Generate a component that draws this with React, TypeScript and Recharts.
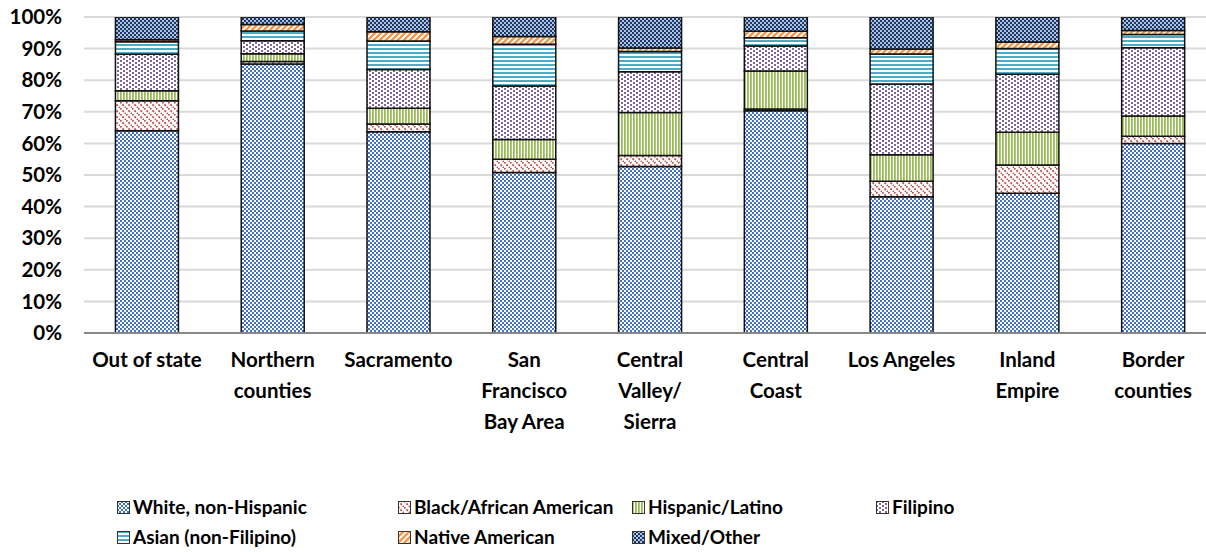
import React from 'react';
import { BarChart, Bar, XAxis, YAxis, CartesianGrid, Legend } from 'recharts';

const regions = [
  'Out of state',
  'Northern\ncounties',
  'Sacramento',
  'San\nFrancisco\nBay Area',
  'Central\nValley/\nSierra',
  'Central\nCoast',
  'Los Angeles',
  'Inland\nEmpire',
  'Border\ncounties',
];

const white = [64.0, 85.1, 63.7, 50.8, 52.7, 70.3, 43.1, 44.2, 60.0];
const black = [9.5, 0.8, 2.4, 4.2, 3.5, 0.6, 4.9, 9.0, 2.3];
const hispanic = [3.2, 2.5, 5.0, 6.2, 13.6, 12.0, 8.4, 10.3, 6.4];
const filipino = [11.5, 4.1, 12.3, 17.0, 12.9, 7.9, 22.4, 18.4, 21.6];
const asian = [4.0, 3.1, 9.0, 13.2, 6.4, 2.6, 9.5, 8.1, 4.2];
const native = [0.6, 2.0, 2.9, 2.4, 1.1, 2.1, 1.6, 2.1, 1.2];
const mixed = [7.2, 2.4, 4.7, 6.2, 9.8, 4.5, 10.1, 7.9, 4.3];

const yTicks = [0, 10, 20, 30, 40, 50, 60, 70, 80, 90, 100];

const series = [
  { key: 'white', name: 'White, non-Hispanic', values: white, pat: 'patWhite' },
  { key: 'black', name: 'Black/African American', values: black, pat: 'patBlack' },
  { key: 'hispanic', name: 'Hispanic/Latino', values: hispanic, pat: 'patHisp' },
  { key: 'filipino', name: 'Filipino', values: filipino, pat: 'patFil' },
  { key: 'asian', name: 'Asian (non-Filipino)', values: asian, pat: 'patAsian' },
  { key: 'native', name: 'Native American', values: native, pat: 'patNative' },
  { key: 'mixed', name: 'Mixed/Other', values: mixed, pat: 'patMixed' },
];

const data = regions.map((r, i) => {
  const row: any = { region: r };
  series.forEach((s) => {
    row[s.key] = s.values[i];
  });
  return row;
});

const FONT = 'Lato, "Liberation Sans", sans-serif';

// legend slots, excel style (4 columns, 2 rows)
const legendCols = [117, 398, 632, 876];

const Patterns = () => (
  <svg width={0} height={0} style={{ position: 'absolute' }}>
    <defs>
      <pattern id="patWhite" width={4} height={4} patternUnits="userSpaceOnUse">
        <rect width={4} height={4} fill="#fff" />
        <rect x={0} y={0} width={2} height={2} fill="#4472C4" />
        <rect x={2} y={2} width={2} height={2} fill="#4472C4" />
      </pattern>
      <pattern id="patBlack" width={6} height={6} patternUnits="userSpaceOnUse">
        <rect width={6} height={6} fill="#fff" />
        <path d="M0,0 L6,6 M-2,4 L2,8 M4,-2 L8,2" stroke="#C0504D" strokeWidth={1.8} strokeDasharray="2 1.5" />
      </pattern>
      <pattern id="patHisp" width={3} height={3} patternUnits="userSpaceOnUse">
        <rect width={3} height={3} fill="#fff" />
        <rect x={0} y={0} width={1.8} height={3} fill="#9BBB59" />
      </pattern>
      <pattern id="patFil" width={6} height={4} patternUnits="userSpaceOnUse">
        <rect width={6} height={4} fill="#fff" />
        <rect x={0} y={0} width={2} height={2} fill="#8064A2" />
        <rect x={3} y={2} width={2} height={2} fill="#8064A2" />
      </pattern>
      <pattern id="patAsian" width={4} height={4} patternUnits="userSpaceOnUse">
        <rect width={4} height={4} fill="#fff" />
        <rect x={0} y={0} width={4} height={2} fill="#4BACC6" />
      </pattern>
      <pattern id="patNative" width={6} height={6} patternUnits="userSpaceOnUse">
        <rect width={6} height={6} fill="#fff" />
        <path d="M0,6 L6,0 M-2,2 L2,-2 M4,8 L8,4" stroke="#F79646" strokeWidth={2.4} />
      </pattern>
      <pattern id="patMixed" width={4} height={4} patternUnits="userSpaceOnUse">
        <rect width={4} height={4} fill="#A9C2E8" />
        <rect x={0} y={0} width={2} height={2} fill="#22385F" />
        <rect x={2} y={2} width={2} height={2} fill="#22385F" />
      </pattern>
    </defs>
  </svg>
);

const RegionTick = (props: any) => {
  const { x, y, payload } = props;
  const lines = String(payload.value).split('\n');
  return (
    <text
      x={x}
      y={y}
      textAnchor="middle"
      fontFamily={FONT}
      fontWeight="bold"
      fontSize={20.5}
      fill="#000"
    >
      {lines.map((l, i) => (
        <tspan key={i} x={x} dy={i === 0 ? 26 : 31}>
          {l}
        </tspan>
      ))}
    </text>
  );
};

const CustomLegend = () => (
  <div style={{ position: 'relative', width: 1206, height: 60, fontFamily: FONT, fontWeight: 'bold', fontSize: 19 }}>
    {series.map((s, i) => {
      const col = i < 4 ? i : i - 4;
      const row = i < 4 ? 0 : 1;
      return (
        <div
          key={s.key}
          style={{
            position: 'absolute',
            left: legendCols[col],
            top: row * 30,
            display: 'flex',
            alignItems: 'center',
            whiteSpace: 'nowrap',
            color: '#000',
            lineHeight: '26px',
          }}
        >
          <svg width={13} height={13} style={{ marginRight: 3 }}>
            <rect x={0.5} y={0.5} width={12} height={12} fill={`url(#${s.pat})`} stroke="#333" strokeWidth={1} />
          </svg>
          {s.name}
        </div>
      );
    })}
  </div>
);

const App = () => {
  return (
    <div style={{ position: 'absolute', left: 0, top: 0, width: 1206, height: 552, overflow: 'hidden', background: '#fff' }}>
      <Patterns />
      <BarChart
        width={1230}
        height={552}
        data={data}
        barCategoryGap="25%"
        margin={{ top: 17, right: 14, left: 0, bottom: 119 }}
      >
        <CartesianGrid vertical={false} stroke="#D9D9D9" strokeWidth={2} />
        <XAxis
          dataKey="region"
          interval={0}
          tickLine={false}
          axisLine={{ stroke: '#888', strokeWidth: 2 }}
          tick={<RegionTick />}
          height={100}
        />
        <YAxis
          width={84}
          domain={[0, 100]}
          ticks={yTicks}
          interval={0}
          tickFormatter={(v) => `${v}%`}
          tickLine={false}
          axisLine={false}
          tickMargin={16}
          tick={{ fontFamily: FONT, fontWeight: 'bold', fontSize: 20.5, fill: '#000' }}
          allowDataOverflow
        />
        <Legend
          layout="horizontal"
          verticalAlign="middle"
          align="center"
          wrapperStyle={{ top: 494, left: 0, width: 1206 }}
          content={<CustomLegend />}
        />
        {series.map((s) => (
          <Bar
            key={s.key}
            dataKey={s.key}
            name={s.name}
            stackId="a"
            fill={`url(#${s.pat})`}
            stroke="#111"
            strokeWidth={1.5}
            isAnimationActive={false}
          />
        ))}
      </BarChart>
    </div>
  );
};

export default App;
